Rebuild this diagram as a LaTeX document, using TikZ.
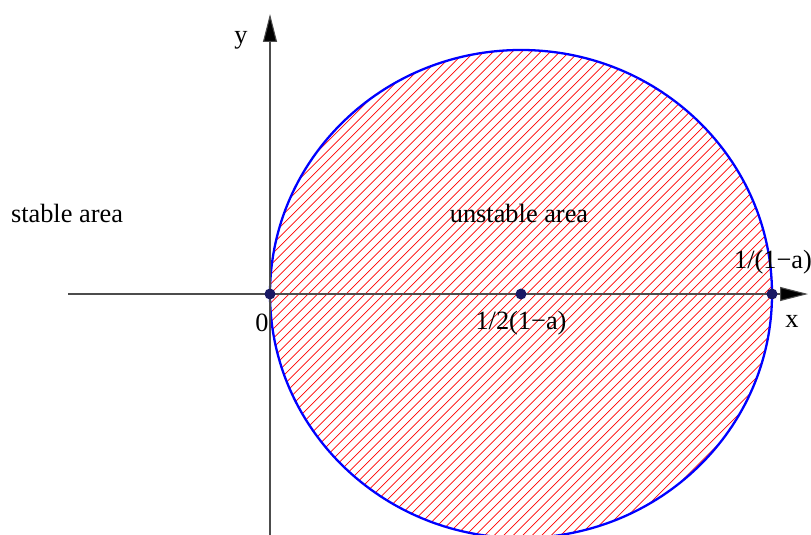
\documentclass[tikz,border=0pt]{standalone}
\usepackage{fontspec}
\setmainfont{Liberation Serif}
\usetikzlibrary{arrows.meta}
\definecolor{dotblue}{RGB}{25,25,100}
\newcommand{\mnus}{\char"2212}
\tikzset{
  axisline/.style={draw=black!70,line width=0.6pt,-{Triangle[length=0.56cm,width=0.28cm,fill=black]}},
  rim/.style={draw=blue,line width=1.3pt},
  hatch/.style={draw=red,line width=0.4pt},
  pt/.style={circle,fill=dotblue,inner sep=0pt,minimum size=0.22cm},
  lbl/.style={font=\fontsize{15}{18}\selectfont,inner sep=1pt}
}
\begin{document}
\begin{tikzpicture}[x=0.02cm,y=-0.02cm]
  \useasboundingbox (0,0) rectangle (811,534);

  % hatched unstable region
  \begin{scope}
    \clip (521,294) ellipse [x radius=251,y radius=244];
    \foreach \i in {-300,-290.5,...,800}
      \draw[hatch] (\i,560) -- (\i+560,0);
  \end{scope}
  \draw[rim] (521,294) ellipse [x radius=251,y radius=244];

  % axes
  \coordinate (xs) at (68,294);
  \coordinate (xe) at (808,294);
  \coordinate (ys) at (270,540);
  \coordinate (ye) at (270,14);
  \draw[axisline] (xs) -- (xe);
  \draw[axisline] (ys) -- (ye);

  % points
  \node[pt] (o) at (270,294) {};
  \node[pt] (m) at (521,294) {};
  \node[pt] (r) at (772,294) {};

  % labels
  \node[lbl] (ylab) at (241,40) {y};
  \node[lbl] (xlab) at (792,321) {x};
  \node[lbl] (olab) at (262,323) {0};
  \node[lbl] (mlab) at (521,323) {1/2(1\mnus a)};
  \node[lbl] (rlab) at (773,262) {1/(1\mnus a)};
  \node[lbl] (ulab) at (519,213) {unstable area};
  \node[lbl] (slab) at (67,213) {stable area};
\end{tikzpicture}
\end{document}
